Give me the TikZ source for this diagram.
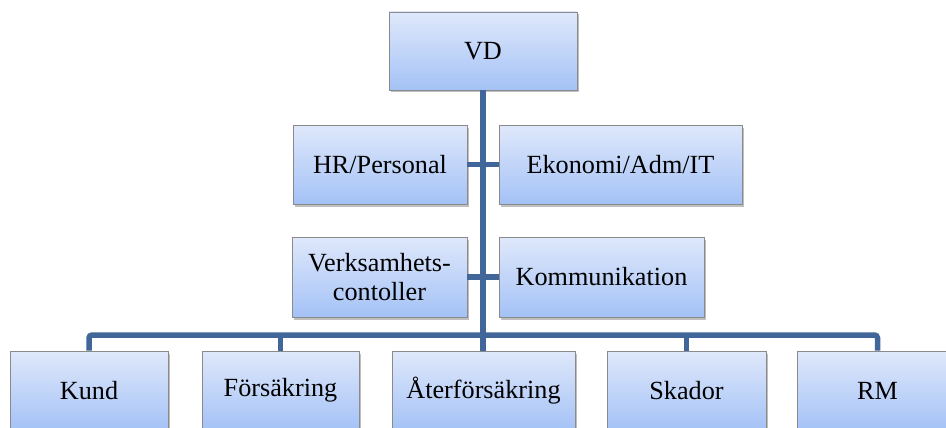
\documentclass[tikz,border=0pt]{standalone}
\usepackage{fontspec}
\setmainfont{Liberation Serif}
\newfontfamily\orgfont{Liberation Serif}
\usetikzlibrary{shadows}
\definecolor{boxtop}{HTML}{DFE8FB}
\definecolor{boxbot}{HTML}{A4C2F6}
\definecolor{boxline}{HTML}{8A8A8A}
\definecolor{connc}{HTML}{41679A}
\tikzset{
  orgbox/.style={draw=boxline, line width=0.9pt, top color=boxtop, bottom color=boxbot,
    minimum height=79pt, inner sep=0pt, align=center,
    font=\orgfont\fontsize{26.2}{29}\selectfont,
    drop shadow={shadow xshift=2pt, shadow yshift=-2.5pt, fill=black!45, opacity=0.55}},
  conn/.style={draw=connc, line width=5.5pt}
}
\begin{document}
\begin{tikzpicture}[x=1pt,y=-1pt]
\useasboundingbox (0,0) rectangle (946,428);
\clip (0,0) rectangle (946,428);
\fill[white] (0,0) rectangle (946,428);
\coordinate (bar) at (0,335);
\node[orgbox, minimum width=188pt, minimum height=78pt] (VD) at (483,51) {VD};
\node[orgbox, minimum width=174pt] (HR) at (380,164.5) {HR/Personal};
\node[orgbox, minimum width=243pt] (Ek) at (620.5,164.5) {Ekonomi/Adm/IT};
\node[orgbox, minimum width=175pt, minimum height=80pt] (Verk) at (379.5,277) {Verksamhets-\\contoller};
\node[orgbox, minimum width=205pt, minimum height=80pt] (Komm) at (601.5,277) {Kommunikation};
\node[orgbox, minimum width=158pt] (Kund) at (89,390.5) {Kund};
\node[orgbox, minimum width=157pt] (Fors) at (280.5,390.5) {Försäkring};
\node[orgbox, minimum width=183pt] (Ater) at (483.5,390.5) {Återförsäkring};
\node[orgbox, minimum width=159pt] (Skad) at (686.5,390.5) {Skador};
\node[orgbox, minimum width=160pt] (RM) at (877.5,390.5) {RM};
\draw[conn] (VD.south -| 483,0) -- (483,351);
\draw[conn] (HR.east) -- (Ek.west);
\draw[conn] (Verk.east) -- (Komm.west);
\draw[conn, rounded corners=3pt] (Kund.north) -- (Kund.north |- bar) -- (RM.north |- bar) -- (RM.north);
\draw[conn] (Fors.north) -- (Fors.north |- bar);
\draw[conn] (Skad.north) -- (Skad.north |- bar);
\end{tikzpicture}
\end{document}
